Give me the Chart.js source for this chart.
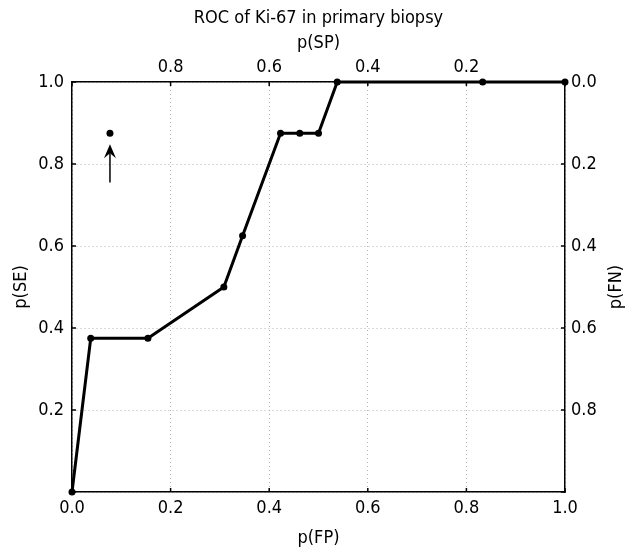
<!DOCTYPE html>
<html>
<head>
<meta charset="utf-8">
<script src="https://cdn.jsdelivr.net/npm/chart.js@4"></script>
<style>
  html, body { margin: 0; padding: 0; background: #fff; }
  #wrap { width: 637px; height: 553px; }
</style>
</head>
<body>
<div id="wrap"><canvas id="roc"></canvas></div>
<script>
// ROC curve points: p(FP) vs p(SE)
const fpValues = [0, 0.038, 0.154, 0.308, 0.346, 0.423, 0.462, 0.5, 0.538, 0.833, 1.0];
const seValues = [0, 0.375, 0.375, 0.5, 0.625, 0.875, 0.875, 0.875, 1.0, 1.0, 1.0];

// the lone marker with the arrow under it
const markerFp = [0.077];
const markerSe = [0.875];
const arrowFp = 0.077;
const arrowFromSe = 0.755;
const arrowToSe = 0.848;

const FONT = '"DejaVu Sans Condensed", "Liberation Sans Narrow", sans-serif';
const tickFont = { family: FONT, size: 18 };
const gridOpts = { color: '#b4b4b4', lineWidth: 1 };
const borderOpts = { display: true, color: '#000', width: 1.5, dash: [1, 3] };

const fmt = v => v.toFixed(1);

// arrow, right-hand axis title (reads upward like the left one) and small inner ticks
const extrasPlugin = {
  id: 'extras',
  afterDatasetsDraw(chart) {
    const { ctx, scales, chartArea } = chart;
    const x = scales.x.getPixelForValue(arrowFp);
    const y1 = scales.y.getPixelForValue(arrowFromSe);
    const y2 = scales.y.getPixelForValue(arrowToSe);
    ctx.save();
    ctx.strokeStyle = '#000';
    ctx.fillStyle = '#000';
    ctx.lineWidth = 1.5;
    ctx.beginPath();
    ctx.moveTo(x, y1);
    ctx.lineTo(x, y2 + 4);
    ctx.stroke();
    ctx.beginPath();
    ctx.moveTo(x, y2);
    ctx.lineTo(x - 6, y2 + 14);
    ctx.lineTo(x, y2 + 9);
    ctx.lineTo(x + 6, y2 + 14);
    ctx.closePath();
    ctx.fill();

    // inner tick marks
    ctx.lineWidth = 1.5;
    ctx.beginPath();
    scales.x.ticks.forEach(t => {
      const px = scales.x.getPixelForValue(t.value);
      ctx.moveTo(px, chartArea.bottom); ctx.lineTo(px, chartArea.bottom - 4);
      ctx.moveTo(px, chartArea.top); ctx.lineTo(px, chartArea.top + 4);
    });
    scales.y.ticks.forEach(t => {
      const py = scales.y.getPixelForValue(t.value);
      ctx.moveTo(chartArea.left, py); ctx.lineTo(chartArea.left + 4, py);
      ctx.moveTo(chartArea.right, py); ctx.lineTo(chartArea.right - 4, py);
    });
    ctx.stroke();

    ctx.font = '18px ' + FONT;
    ctx.textAlign = 'center';
    ctx.textBaseline = 'middle';
    ctx.translate(616, (chartArea.top + chartArea.bottom) / 2);
    ctx.rotate(-Math.PI / 2);
    ctx.fillText('p(FN)', 0, 0);
    ctx.restore();
  }
};

new Chart(document.getElementById('roc'), {
  type: 'scatter',
  data: {
    datasets: [{
      data: fpValues.map((v, i) => ({ x: v, y: seValues[i] })),
      showLine: true,
      borderColor: '#000',
      backgroundColor: '#000',
      borderWidth: 3,
      pointRadius: 3.5,
      pointBorderWidth: 0,
      clip: false
    }, {
      data: markerFp.map((v, i) => ({ x: v, y: markerSe[i] })),
      showLine: false,
      backgroundColor: '#000',
      pointRadius: 3.5,
      pointBorderWidth: 0
    }]
  },
  options: {
    responsive: true,
    maintainAspectRatio: false,
    animation: false,
    layout: { padding: 0 },
    plugins: { legend: { display: false }, tooltip: { enabled: false } },
    scales: {
      x: {
        type: 'linear', position: 'bottom', min: 0, max: 1,
        afterFit: s => { s.height = 61; },
        ticks: { stepSize: 0.2, color: '#000', font: tickFont, padding: 6, callback: fmt, maxRotation: 0 },
        grid: { ...gridOpts, drawTicks: false },
        border: borderOpts,
        title: { display: true, text: 'p(FP)', color: '#000', font: tickFont, padding: { top: 0, bottom: 4 } }
      },
      x2: {
        type: 'linear', position: 'top', min: 0, max: 1, reverse: true,
        afterFit: s => { s.height = 82; },
        ticks: {
          stepSize: 0.2, color: '#000', font: tickFont, padding: 4, maxRotation: 0,
          callback: v => (v < 0.01 || v > 0.99) ? '' : fmt(v)
        },
        grid: { display: false, drawTicks: false },
        border: { display: true, color: '#000', width: 1.5 },
        title: {
          display: true, text: ['ROC of Ki-67 in primary biopsy', 'p(SP)'],
          color: '#000', font: { family: FONT, size: 18, lineHeight: 1.38 }, padding: { top: 6, bottom: 0 }
        }
      },
      y: {
        type: 'linear', position: 'left', min: 0, max: 1,
        afterFit: s => { s.width = 72; },
        ticks: {
          stepSize: 0.2, color: '#000', font: tickFont, padding: 8,
          callback: v => v < 0.01 ? '' : fmt(v)
        },
        grid: { ...gridOpts, drawTicks: false },
        border: borderOpts,
        title: { display: true, text: 'p(SE)', color: '#000', font: tickFont, padding: { top: 11, bottom: 0 } }
      },
      y2: {
        type: 'linear', position: 'right', min: 0, max: 1, reverse: true,
        afterFit: s => { s.width = 72; },
        ticks: {
          stepSize: 0.2, color: '#000', font: tickFont, padding: 6,
          callback: v => v > 0.99 ? '' : fmt(v)
        },
        grid: { display: false, drawTicks: false },
        border: { display: true, color: '#000', width: 1.5 },
        title: { display: false }
      }
    }
  },
  plugins: [extrasPlugin]
});
</script>
</body>
</html>
